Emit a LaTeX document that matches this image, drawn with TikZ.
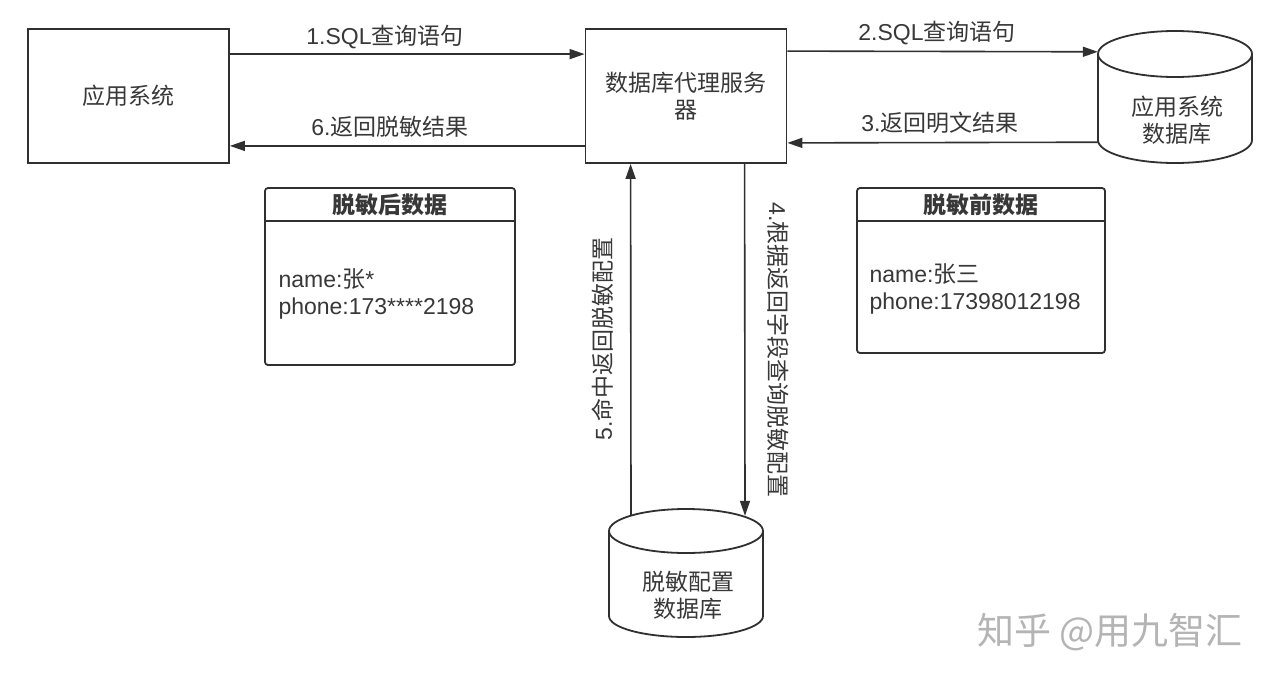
\documentclass[tikz,border=0pt]{standalone}
\usepackage{fontspec}
\setmainfont{Noto Sans CJK SC}
\newfontfamily\lat{Liberation Sans}
\usetikzlibrary{arrows.meta,calc}
\definecolor{ln}{HTML}{303030}
\definecolor{tx}{HTML}{383838}
\definecolor{wm}{HTML}{b4b4b4}
\begin{document}
\begin{tikzpicture}[x=1pt,y=-1pt,
  every node/.style={text=tx,font=\fontsize{23}{27}\selectfont},
  sqbox/.style={draw=ln,line width=1.8pt,minimum width=201pt,minimum height=134pt,inner sep=0pt,align=center},
  databox/.style={draw=ln,line width=1.8pt,rounded corners=3pt,inner sep=0pt},
  ghost/.style={draw=none,inner sep=0pt},
  arr/.style={draw=ln,line width=1.6pt,-{Triangle[length=15pt,width=10pt]}},
  cyl/.style={draw=ln,line width=1.8pt,fill=white}
]
\useasboundingbox (0,0) rectangle (1280,681);
\fill[white] (0,0) rectangle (1280,681);

% main boxes
\node[sqbox] (app) at (128.5,96) {应用系统};
\node[sqbox] (proxy) at (686,96) {数据库代理服务\\器};

% application database cylinder
\node[ghost,minimum width=154pt,minimum height=132pt] (adb) at (1175,97) {};
\draw[cyl] (1098,54) -- (1098,140) arc[start angle=180,end angle=360,x radius=77,y radius=-23] -- (1252,54);
\draw[cyl] (1175,54) ellipse[x radius=77,y radius=23];
\node[align=center] at (1177,120) {应用系统\\数据库};

% masking config database cylinder
\node[ghost,minimum width=154pt,minimum height=129pt] (mdb) at (686,572.5) {};
\draw[cyl] (609,531) -- (609,616) arc[start angle=180,end angle=360,x radius=77,y radius=-21] -- (763,531);
\draw[cyl] (686,531) ellipse[x radius=77,y radius=22];
\node[align=center] at (688,595) {脱敏配置\\数据库};

% horizontal arrows
\draw[arr] ($(app.north east)+(0,26)$) -- ($(proxy.north west)+(0,26)$);
\node at (385,37) {{\lat 1.SQL}查询语句};
\draw[arr] ($(proxy.south west)+(0,-18)$) -- ($(app.south east)+(0,-18)$);
\node at (390,127) {{\lat 6.}返回脱敏结果};
\draw[arr] ($(proxy.north east)+(0,23)$) -- ($(adb.north west)+(0,21)$);
\node at (937,33) {{\lat 2.SQL}查询语句};
\draw[arr] ($(adb.south west)+(0,-21)$) -- ($(proxy.south east)+(0,-21)$);
\node at (940,123) {{\lat 3.}返回明文结果};

% vertical arrows
\draw[arr] ($(proxy.south west)+(160,0)$) -- ($(mdb.north)+(59,8)$);
\node[rotate=-90] at (778,350) {{\lat 4.}根据返回字段查询脱敏配置};
\draw[arr] ($(mdb.north)+(-55,7)$) -- ($(proxy.south west)+(46,0)$);
\node[rotate=90] at (603,339) {{\lat 5.}命中返回脱敏配置};

% data boxes
\node[databox,minimum width=250pt,minimum height=177pt] (after) at (390,276.5) {};
\draw[ln,line width=1.8pt] ($(after.north west)+(0,34)$) -- ($(after.north east)+(0,34)$);
\node[font=\fontsize{23}{27}\selectfont\bfseries] at (390,205) {脱敏后数据};
\node[anchor=west,align=left] at (275,294) {{\lat name:}张{\lat *}\\{\lat phone:173****2198}};

\node[databox,minimum width=248pt,minimum height=165pt] (before) at (981,270.5) {};
\draw[ln,line width=1.8pt] ($(before.north west)+(0,34)$) -- ($(before.north east)+(0,34)$);
\node[font=\fontsize{23}{27}\selectfont\bfseries] at (981,205) {脱敏前数据};
\node[anchor=west,align=left] at (866,288.5) {{\lat name:}张三\\{\lat phone:17398012198}};

% watermark
\node[text=wm,font=\fontsize{37}{40}\selectfont] at (1110,632) {知乎 @用九智汇};
\end{tikzpicture}
\end{document}
